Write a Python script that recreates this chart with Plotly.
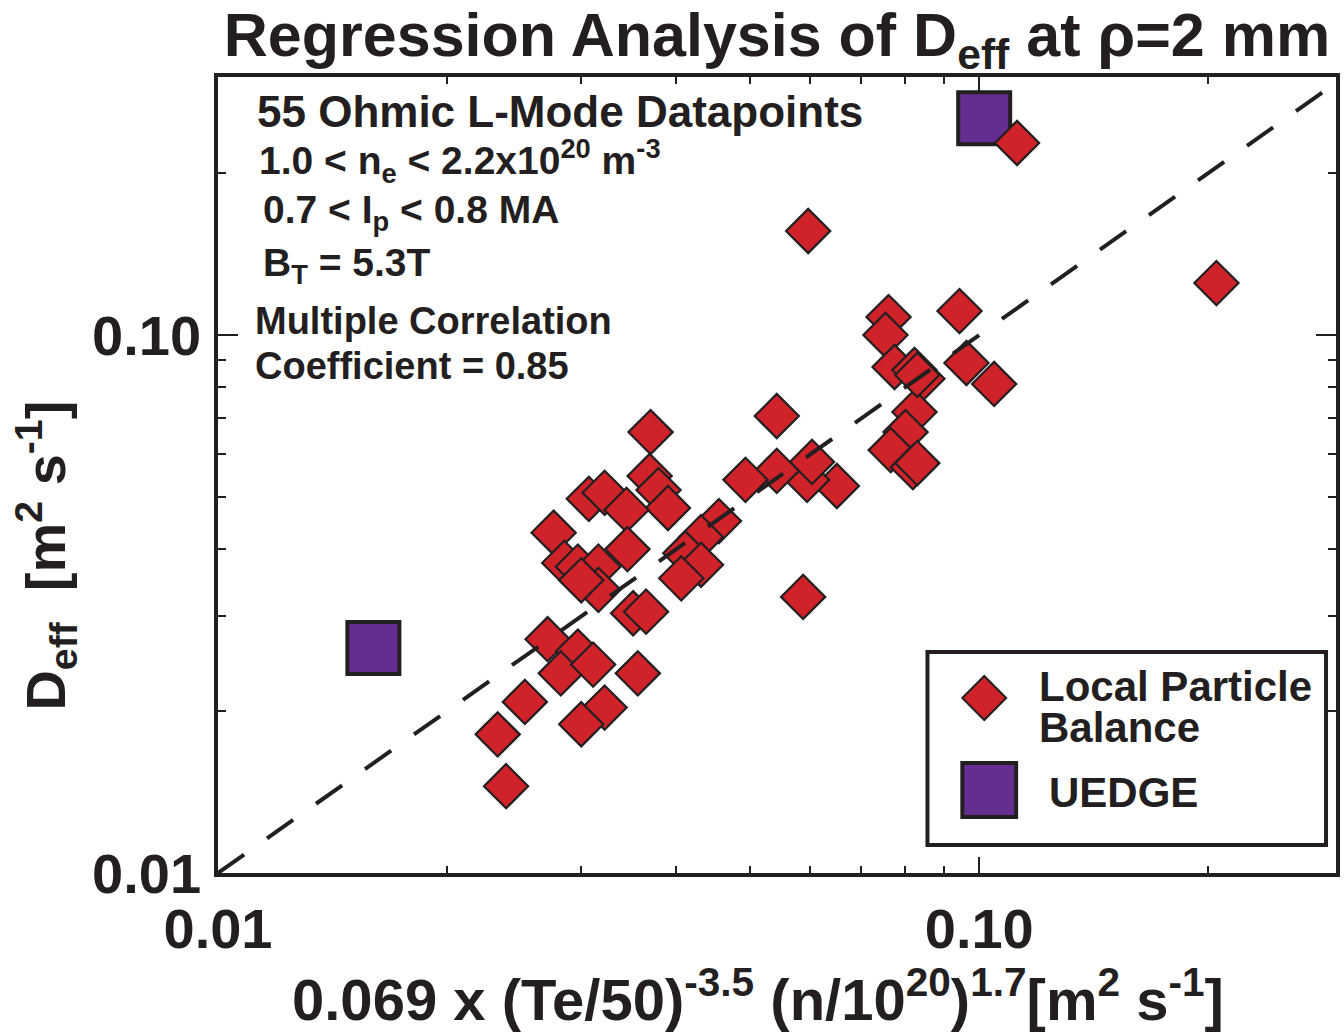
import plotly.graph_objects as go

# ---- data ----
lpb_x = [0.1121, 0.0596, 0.2049, 0.0942, 0.0760, 0.0753, 0.0774, 0.0822, 0.0842, 0.0962,
         0.1046, 0.0822, 0.0800, 0.0765, 0.0818, 0.0829, 0.0650, 0.0594, 0.0603, 0.0542,
         0.0493, 0.0542, 0.0587, 0.0455, 0.0431, 0.0411, 0.0431, 0.0406, 0.0370, 0.0369,
         0.0379, 0.0390, 0.0307, 0.0322, 0.0344, 0.0345, 0.0276, 0.0285, 0.0297, 0.0316,
         0.0316, 0.0300, 0.0351, 0.0365, 0.0271, 0.0297, 0.0282, 0.0311, 0.0356, 0.0253,
         0.0233, 0.0322, 0.0300, 0.0239, 0.0829]
lpb_y = [0.2275, 0.1561, 0.1249, 0.1108, 0.1080, 0.1000, 0.0872, 0.0861, 0.0829, 0.0887,
         0.0811, 0.0719, 0.0660, 0.0611, 0.0568, 0.0578, 0.0524, 0.0538, 0.0581, 0.0559,
         0.0538, 0.0707, 0.0326, 0.0451, 0.0421, 0.0393, 0.0374, 0.0353, 0.0660, 0.0547,
         0.0515, 0.0477, 0.0496, 0.0509, 0.0473, 0.0400, 0.0429, 0.0377, 0.0371, 0.0371,
         0.0336, 0.0350, 0.0304, 0.0306, 0.0272, 0.0258, 0.0235, 0.0244, 0.0235, 0.0208,
         0.0181, 0.0203, 0.0189, 0.0145, 0.0843]
uedge_x = [0.1015, 0.0160]
uedge_y = [0.2530, 0.0262]
unity_x = [0.01, 0.3]
unity_y = [0.01, 0.3]

x_major_vals = [0.01, 0.1]
x_major_text = ["0.01", "0.10"]
y_major_vals = [0.01, 0.1]
y_major_text = ["0.01", "0.10"]
minor_vals = [0.02, 0.03, 0.04, 0.05, 0.06, 0.07, 0.08, 0.09, 0.2]

info_lines = [
    "55 Ohmic L-Mode Datapoints",
    "1.0 < n<sub>e</sub> < 2.2x10<sup>20</sup> m<sup>-3</sup>",
    "0.7 < I<sub>p</sub> < 0.8 MA",
    "B<sub>T</sub> = 5.3T",
    "Multiple Correlation",
    "Coefficient = 0.85",
]
legend_lines = ["Local Particle", "Balance", "UEDGE"]

# ---- style ----
FONT = "Liberation Sans, Arial, Helvetica, sans-serif"
INK = "#231f20"
RED = "#d02229"
PURPLE = "#662d91"
W, H = 1344, 1034
L, R, T, B = 218, 4, 77, 161
PW, PH = W - L - R, H - T - B


def px(xp):
    return (xp - L) / PW


def py(yp):
    return (H - B - yp) / PH


fig = go.Figure()
fig.add_trace(go.Scatter(
    x=uedge_x, y=uedge_y, mode="markers", showlegend=False,
    marker=dict(symbol="square", size=52, color=PURPLE, line=dict(color=INK, width=4))))
fig.add_trace(go.Scatter(
    x=lpb_x, y=lpb_y, mode="markers", showlegend=False,
    marker=dict(symbol="diamond", size=34, color=RED, line=dict(color=INK, width=2.2))))
fig.add_trace(go.Scatter(
    x=unity_x, y=unity_y, mode="lines", showlegend=False,
    line=dict(color=INK, width=4, dash="32px,28px")))

axis_common = dict(
    type="log", showline=True, linecolor=INK, linewidth=3.5, mirror="ticks",
    ticks="inside", tickcolor=INK, tickwidth=2, showgrid=False, zeroline=False,
    tickmode="array",
    tickfont=dict(family=FONT, size=56, color=INK, weight="bold"),
)
fig.update_xaxes(**axis_common, range=[-2, -0.5314], tickvals=x_major_vals,
                 ticktext=x_major_text, ticklen=16, ticklabelstandoff=4,
                 minor=dict(tickmode="array", tickvals=minor_vals, ticks="inside",
                            ticklen=7, tickwidth=2, tickcolor=INK, showgrid=False))
fig.update_yaxes(**axis_common, range=[-2, -0.5204], tickvals=y_major_vals,
                 ticktext=y_major_text, ticklen=20, ticklabelstandoff=2,
                 minor=dict(tickmode="array", tickvals=minor_vals, ticks="inside",
                            ticklen=8, tickwidth=2, tickcolor=INK, showgrid=False))

ann = []
# info block
info_pos = [(255, 111, 44), (257, 161, 39), (261, 213, 39), (261, 265, 39), (253, 321, 38), (253, 366, 38)]
for txt, (xp, yp, sz) in zip(info_lines, info_pos):
    ann.append(dict(text=txt, x=px(xp), y=py(yp), xref="paper", yref="paper",
                    xanchor="left", yanchor="middle", showarrow=False,
                    font=dict(family=FONT, size=sz, color=INK, weight="bold")))
# axis titles
ann.append(dict(text="0.069 x (Te/50)<sup>-3.5</sup> (n/10<sup>20</sup>)<sup>1.7</sup>[m<sup>2</sup> s<sup>-1</sup>]",
                x=px(760), y=py(996), xref="paper", yref="paper", xanchor="center",
                yanchor="middle", showarrow=False,
                font=dict(family=FONT, size=58, color=INK, weight="bold")))
ann.append(dict(text="D<sub>eff</sub>  [m<sup>2</sup> s<sup>-1</sup>]",
                x=px(45), y=py(556), xref="paper", yref="paper", xanchor="center",
                yanchor="middle", textangle=-90, showarrow=False,
                font=dict(family=FONT, size=56, color=INK, weight="bold")))
# legend texts
leg_pos = [(1040, 686), (1040, 727), (1050, 792)]
for txt, (xp, yp) in zip(legend_lines, leg_pos):
    ann.append(dict(text=txt, x=px(xp), y=py(yp), xref="paper", yref="paper",
                    xanchor="left", yanchor="middle", showarrow=False,
                    font=dict(family=FONT, size=42, color=INK, weight="bold")))

shapes = []
shapes.append(dict(type="rect", xref="paper", yref="paper",
                   x0=px(930), x1=px(1330), y0=py(845), y1=py(652),
                   line=dict(color=INK, width=4), fillcolor="white", layer="above"))
cx, cy, hw, hh = px(987), py(698), 22 / PW, 22 / PH
shapes.append(dict(type="path", xref="paper", yref="paper",
                   path=f"M {cx-hw},{cy} L {cx},{cy+hh} L {cx+hw},{cy} L {cx},{cy-hh} Z",
                   fillcolor=RED, line=dict(color=INK, width=2), layer="above"))
sx, sy, sh, sv = px(992), py(790), 27 / PW, 27 / PH
shapes.append(dict(type="rect", xref="paper", yref="paper",
                   x0=sx - sh, x1=sx + sh, y0=sy - sv, y1=sy + sv,
                   fillcolor=PURPLE, line=dict(color=INK, width=4), layer="above"))

fig.update_layout(
    width=W, height=H, autosize=False,
    margin=dict(l=L, r=R, t=T, b=B),
    paper_bgcolor="white", plot_bgcolor="white",
    font=dict(family=FONT, color=INK),
    title=dict(text="Regression Analysis of D<sub>eff</sub> at ρ=2 mm",
               x=777 / W, xanchor="center", y=1 - 35 / H, yanchor="middle",
               font=dict(family=FONT, size=61, color=INK, weight="bold")),
    annotations=ann, shapes=shapes, showlegend=False,
)

fig.write_html("out.html")
